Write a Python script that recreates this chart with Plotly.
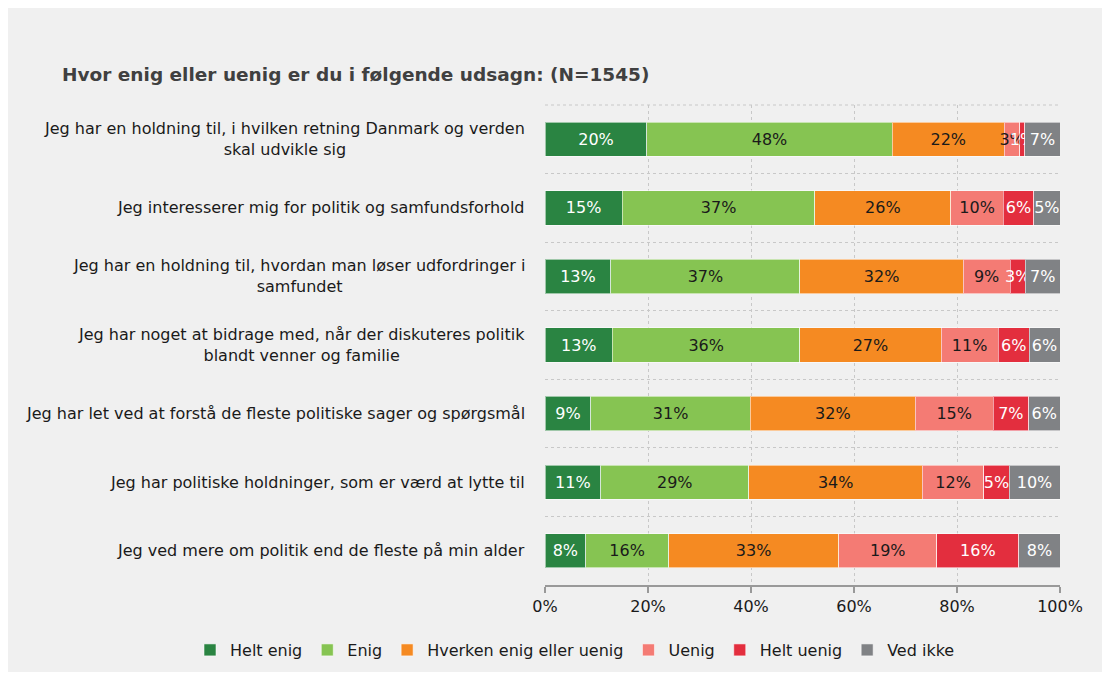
import plotly.graph_objects as go

categories = [
    "Jeg har en holdning til, i hvilken retning Danmark og verden<br>skal udvikle sig",
    "Jeg interesserer mig for politik og samfundsforhold",
    "Jeg har en holdning til, hvordan man løser udfordringer i<br>samfundet",
    "Jeg har noget at bidrage med, når der diskuteres politik<br>blandt venner og familie",
    "Jeg har let ved at forstå de fleste politiske sager og spørgsmål",
    "Jeg har politiske holdninger, som er værd at lytte til",
    "Jeg ved mere om politik end de fleste på min alder",
]

series_names = ["Helt enig", "Enig", "Hverken enig eller uenig", "Uenig", "Helt uenig", "Ved ikke"]

helt_enig = [19.8, 15.0, 12.8, 13.1, 8.9, 10.8, 7.9]
enig = [47.6, 37.4, 36.7, 36.4, 31.0, 28.8, 16.1]
hverken = [21.8, 26.4, 31.7, 27.4, 32.0, 33.7, 33.0]
uenig = [3.0, 10.2, 9.1, 11.1, 15.1, 11.9, 19.1]
helt_uenig = [1.0, 5.9, 3.0, 6.0, 6.9, 4.9, 15.9]
ved_ikke = [6.8, 5.1, 6.7, 6.0, 6.1, 9.9, 8.0]

series_values = [helt_enig, enig, hverken, uenig, helt_uenig, ved_ikke]
colors = ["#2a8442", "#86c452", "#f58a22", "#f47b74", "#e32e3e", "#808285"]
text_colors = ["white", "#1a1a1a", "#1a1a1a", "#1a1a1a", "white", "white"]

x_tickvals = [0, 20, 40, 60, 80, 100]
x_ticktext = ["0%", "20%", "40%", "60%", "80%", "100%"]

FONT = "DejaVu Sans"

fig = go.Figure()
for name, vals, col, tcol in zip(series_names, series_values, colors, text_colors):
    fig.add_trace(go.Bar(
        y=categories, x=vals, name=name, orientation="h",
        marker=dict(color=col, line=dict(color="rgba(255,255,255,0.55)", width=1)),
        texttemplate="%{x:.0f}%", textposition="inside", insidetextanchor="middle",
        textangle=0, insidetextfont=dict(color=tcol, size=16, family=FONT),
        cliponaxis=False,
    ))

# figure sits at an 8px page offset
W, H = 1094, 664
L, T = 537, 97
PW, PH = 515, 480
R = W - L - PW
B = H - T - PH

annotations = []
for c in categories:
    annotations.append(dict(
        x=0, xref="paper", y=c, yref="y", text=c, showarrow=False,
        xanchor="right", yanchor="middle", align="center", xshift=-18,
        font=dict(family=FONT, size=16, color="#1a1a1a"),
    ))

shapes = [
    dict(type="line", xref="paper", yref="paper", layer="below",
         x0=0, x1=1, y0=1, y1=1, line=dict(color="#c8c8c8", width=1, dash="3px,3px")),
]

fig.update_layout(
    width=W, height=H,
    barmode="stack", bargap=0.5,
    paper_bgcolor="#f0f0f0", plot_bgcolor="#f0f0f0",
    margin=dict(l=L, r=R, t=T, b=B, autoexpand=False),
    font=dict(family=FONT, size=16, color="#1a1a1a"),
    uniformtext=dict(minsize=16, mode="show"),
    title=dict(text="<b>Hvor enig eller uenig er du i følgende udsagn: (N=1545)</b>",
               x=54 / W, xanchor="left", xref="container",
               y=1 - 67 / H, yanchor="middle", yref="container",
               font=dict(family=FONT, size=18.5, color="#404040")),
    xaxis=dict(range=[0, 100.0001], tickvals=x_tickvals, ticktext=x_ticktext,
               showgrid=True, gridcolor="#c8c8c8", griddash="3px,3px", gridwidth=1,
               showline=True, linecolor="#999999", linewidth=2,
               ticks="outside", ticklen=6, tickcolor="#999999", tickwidth=2,
               tickfont=dict(family=FONT, size=16, color="#1a1a1a"),
               zeroline=False, fixedrange=True),
    yaxis=dict(categoryorder="array", categoryarray=categories,
               range=[6.5, -0.5], tickson="boundaries",
               showgrid=True, gridcolor="#c8c8c8", griddash="3px,3px", gridwidth=1,
               showticklabels=False, ticks="", showline=False, zeroline=False),
    legend=dict(orientation="h", xref="paper", x=(190 - 8 - L) / PW, xanchor="left",
                yref="paper", y=(T + PH - (650 - 8)) / PH, yanchor="middle",
                traceorder="normal",
                font=dict(family=FONT, size=16, color="#1a1a1a"),
                itemwidth=30, bgcolor="rgba(0,0,0,0)"),
    shapes=shapes, annotations=annotations,
)

fig.write_html("out.html")
